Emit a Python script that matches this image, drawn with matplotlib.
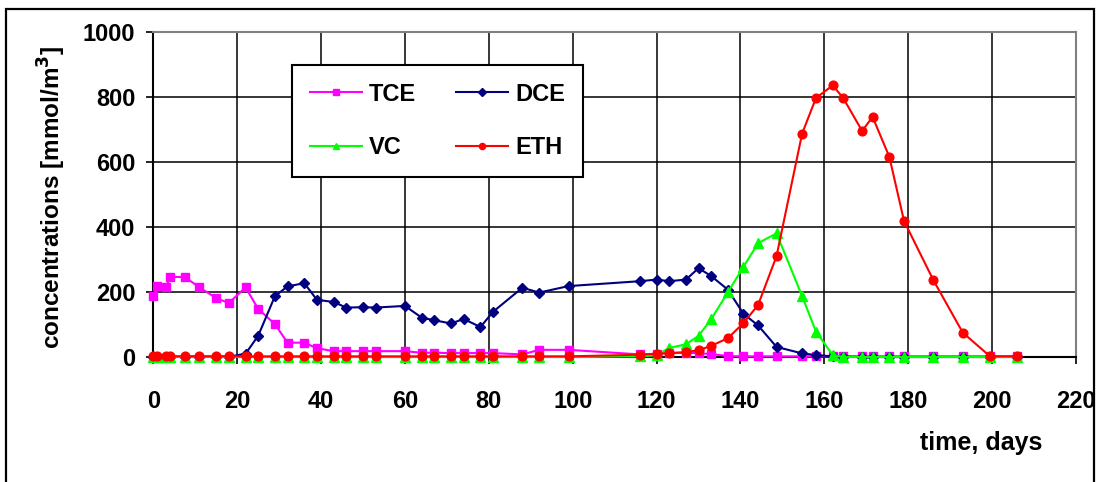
import matplotlib
matplotlib.use("Agg")
import matplotlib.pyplot as plt
from matplotlib.patches import Rectangle

# sampling days (shared by all series)
days = [0, 1, 3, 4, 7.5, 11, 15, 18, 22, 25, 29, 32, 36, 39, 43, 46, 50, 53,
        60, 64, 67, 71, 74, 78, 81, 88, 92, 99, 116, 120, 123, 127, 130, 133,
        137, 140.7, 144.2, 148.6, 154.7, 158, 162, 164.5, 169, 171.5, 175.5,
        179, 186, 193, 199.5, 206]

tce = [186, 219, 214, 246, 246, 214, 181, 166, 214, 148, 101, 44, 44, 27,
       18, 18, 18, 18, 18, 13, 13, 12, 12, 12, 12, 8, 22, 22, 8, 10, 12, 13,
       12, 9, 3, 2, 2, 2, 2, 2, 2, 2, 2, 2, 2, 2, 2, 2, 2, 2]

dce = [1, 1, 1, 1, 1, 1, 1, 1, 10, 65, 187, 217, 227, 176, 169, 152, 153,
       152, 157, 121, 113, 103, 117, 92, 139, 213, 198, 218, 233, 238, 233,
       238, 273, 249, 207, 133, 97, 31, 11, 6, 2, 1, 0, 0, 0, 0, 0, 0, 0, 0]

vc = [0, 0, 0, 0, 0, 0, 0, 0, 0, 0, 0, 0, 0, 0, 0, 0, 0, 0, 0, 0, 0, 0, 0,
      0, 0, 0, 0, 0, 2, 5, 28, 39, 65, 116, 199, 277, 350, 380, 187, 78, 6,
      0, 0, 0, 0, 0, 0, 0, 0, 0]

eth = [2, 2, 2, 2, 2, 2, 2, 2, 2, 2, 2, 2, 2, 2, 2, 2, 2, 2, 2, 2, 2, 2, 2,
       2, 2, 2, 2, 2, 7, 10, 12, 15, 21, 34, 58, 104, 160, 310, 687, 796,
       835, 796, 695, 738, 615, 418, 236, 75, 2, 2]

W, H = 1100, 482
fig = plt.figure(figsize=(W / 100, H / 100), dpi=100)
plt.rcParams['font.family'] = ['Liberation Sans', 'DejaVu Sans']
plt.rcParams['font.weight'] = 'bold'

ax = fig.add_axes([153.3 / W, 1 - 357 / H, (1076 - 153.3) / W, (357 - 31.7) / H])

h_tce, = ax.plot(days, tce, color='#ff00ff', lw=1.5, marker='s', ms=5.8, label='TCE', clip_on=False, zorder=3)
h_dce, = ax.plot(days, dce, color='#000080', lw=1.5, marker='D', ms=5.2, label='DCE', clip_on=False, zorder=4)
h_vc, = ax.plot(days, vc, color='#00ff00', lw=1.5, marker='^', ms=7, label='VC', clip_on=False, zorder=5)
h_eth, = ax.plot(days, eth, color='#ff0000', lw=1.5, marker='o', ms=6.3, label='ETH', clip_on=False, zorder=6)

ax.set_xlim(0, 220)
ax.set_ylim(0, 1000)
ax.set_xticks(range(0, 221, 20))
ax.set_yticks(range(0, 1001, 200))
ax.grid(True, color='black', lw=1.1)
ax.set_axisbelow(True)

for s in ['top', 'right']:
    ax.spines[s].set_color('#808080')
    ax.spines[s].set_linewidth(1.5)
for s in ['left', 'bottom']:
    ax.spines[s].set_color('black')
    ax.spines[s].set_linewidth(1.5)

ax.tick_params(axis='both', direction='out', length=5, width=1.2, labelsize=17)
ax.tick_params(axis='x', pad=19)
ax.tick_params(axis='y', pad=8)
for lab in ax.get_xticklabels() + ax.get_yticklabels():
    lab.set_fontweight('bold')

ax.set_ylabel('concentrations [mmol/m$^\\mathbf{3}$]', fontsize=17.5, fontweight='bold', va='center')
ax.yaxis.set_label_coords((52 - 153.3) / (1076 - 153.3), (357 - 197.5) / (357 - 31.7))

fig.text(981 / W, 1 - 443 / H, 'time, days', fontsize=18, fontweight='bold', ha='center', va='center')

# row-wise legend: TCE DCE / VC ETH
leg = ax.legend([h_tce, h_vc, h_dce, h_eth], ['TCE', 'VC', 'DCE', 'ETH'],
                loc='upper left', bbox_to_anchor=(292 / W, 1 - 65 / H), bbox_transform=fig.transFigure,
                ncol=2, borderaxespad=0, fancybox=False, edgecolor='black', framealpha=1,
                prop={'size': 17, 'weight': 'bold'}, handlelength=2.2, handletextpad=0.3,
                columnspacing=1.7, labelspacing=1.3, borderpad=0.75, markerscale=0.7)
leg.get_frame().set_linewidth(1.5)
leg.set_zorder(10)

# outer chart frame
fig.patches.append(Rectangle((6 / W, -0.05), (1094 - 6) / W, (H - 9) / H + 0.05,
                             transform=fig.transFigure, fill=False, ec='black', lw=1.6))

fig.savefig('out.png', dpi=100)
